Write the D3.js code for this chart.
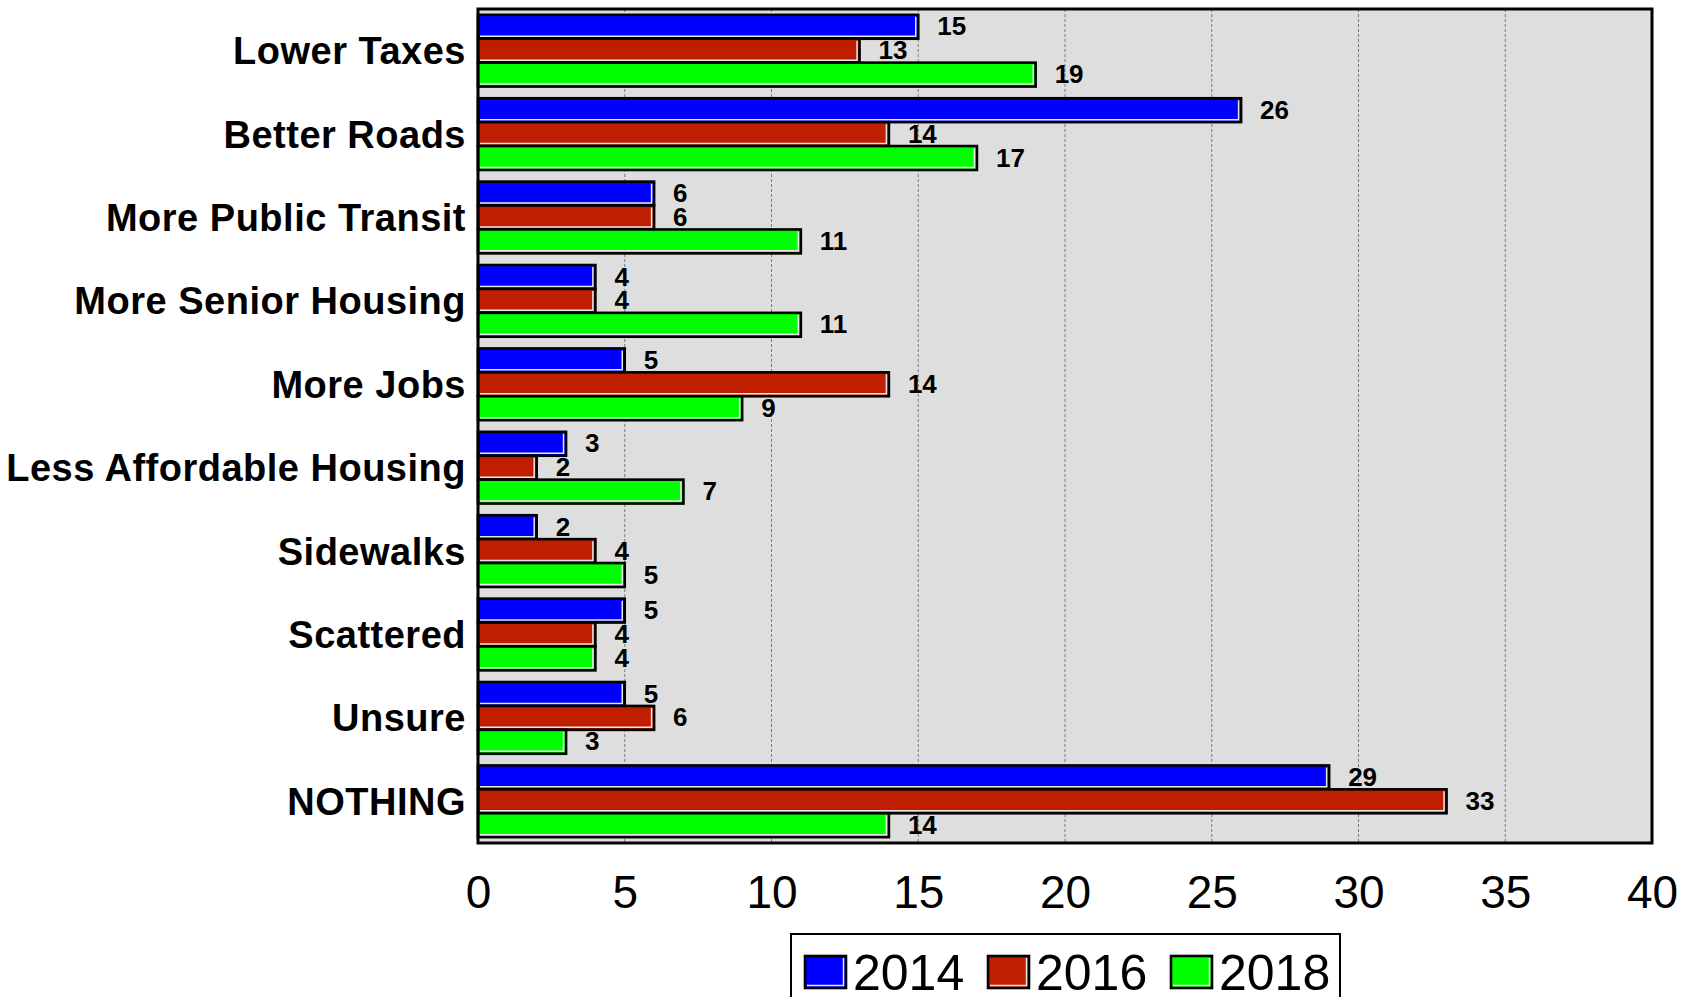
<!DOCTYPE html>
<html>
<head>
<meta charset="utf-8">
<script src="https://cdn.jsdelivr.net/npm/d3@7"></script>
<style>
  body { margin: 0; background: #fff; }
  svg { font-family: Arial, "Liberation Sans", sans-serif; }
</style>
</head>
<body>
<div id="chart"></div>
<script>
// data
const categories = ['Lower Taxes', 'Better Roads', 'More Public Transit', 'More Senior Housing',
    'More Jobs', 'Less Affordable Housing', 'Sidewalks', 'Scattered', 'Unsure', 'NOTHING'];
const years = ['2014', '2016', '2018'];
const values2014 = [15, 26, 6, 4, 5, 3, 2, 5, 5, 29];
const values2016 = [13, 14, 6, 4, 14, 2, 4, 4, 6, 33];
const values2018 = [19, 17, 11, 11, 9, 7, 5, 4, 3, 14];
const xTicks = [0, 5, 10, 15, 20, 25, 30, 35, 40];
const colors = ['#0000ff', '#c01e00', '#00ff00'];

class GroupedBars {

    constructor(_config) {
        this.config = {
            parentElement: _config.parentElement,
            containerWidth: _config.containerWidth || 1692,
            containerHeight: _config.containerHeight || 997,
            margin: _config.margin || {top: 9, right: 40, bottom: 154, left: 478}
        };
        this.series = [values2014, values2016, values2018];
        this.initVis();
    }

    initVis() {
        let vis = this;

        vis.width = vis.config.containerWidth - vis.config.margin.left - vis.config.margin.right;
        vis.height = vis.config.containerHeight - vis.config.margin.top - vis.config.margin.bottom;

        vis.svg = d3.select(vis.config.parentElement)
            .append('svg')
            .attr('width', vis.config.containerWidth)
            .attr('height', vis.config.containerHeight);

        vis.chart = vis.svg.append('g')
            .attr('transform', `translate(${vis.config.margin.left},${vis.config.margin.top})`);

        vis.x = d3.scaleLinear().domain([0, 40]).range([0, vis.width]);

        vis.y = d3.scaleBand()
            .domain(categories)
            .range([0, vis.height])
            .paddingInner(0.14)
            .paddingOuter(0.07);

        vis.ySub = d3.scaleBand()
            .domain(years)
            .range([0, vis.y.bandwidth()]);

        // plot background
        vis.chart.append('rect')
            .attr('width', vis.width)
            .attr('height', vis.height)
            .attr('fill', '#dedede');

        // dashed grid
        vis.chart.selectAll('.grid')
            .data(xTicks.slice(1, -1))
            .join('line')
            .attr('class', 'grid')
            .attr('x1', d => vis.x(d)).attr('x2', d => vis.x(d))
            .attr('y1', 0).attr('y2', vis.height)
            .attr('stroke', '#7a7a7a')
            .attr('stroke-width', 1)
            .attr('stroke-dasharray', '3,2');

        // x axis labels
        vis.xAxisG = vis.chart.append('g')
            .attr('transform', `translate(0,${vis.height})`)
            .call(d3.axisBottom(vis.x).tickValues(xTicks).tickSize(0).tickFormat(d3.format('d')));
        vis.xAxisG.select('.domain').remove();
        vis.xAxisG.selectAll('text')
            .attr('y', 65)
            .attr('dy', null)
            .attr('fill', '#000')
            .style('font-size', '46px')
            .style('font-family', 'Arial, "Liberation Sans", sans-serif');

        // category labels
        vis.chart.selectAll('.cat-label')
            .data(categories)
            .join('text')
            .attr('class', 'cat-label')
            .attr('x', -12)
            .attr('y', d => vis.y(d) + vis.y.bandwidth() / 2 + 13.5)
            .attr('text-anchor', 'end')
            .style('font-size', '38px')
            .style('font-weight', 'bold')
            .style('letter-spacing', '0.5px')
            .text(d => d);

        vis.renderVis();
        vis.renderLegend();
    }

    bar(sel, x, y, w, h, color) {
        sel.append('rect')
            .attr('x', x).attr('y', y)
            .attr('width', w).attr('height', h)
            .attr('fill', color)
            .attr('stroke', '#000')
            .attr('stroke-width', 2.6);
        // light bevel on right/bottom edges
        sel.append('path')
            .attr('d', `M${x + 2},${y + h - 2.5}H${x + w - 2.5}V${y + 2}`)
            .attr('fill', 'none')
            .attr('stroke', '#e8e8e8')
            .attr('stroke-width', 1.5);
    }

    renderVis() {
        let vis = this;

        const groups = vis.chart.selectAll('.group')
            .data(categories)
            .join('g')
            .attr('class', 'group')
            .attr('transform', d => `translate(0,${vis.y(d)})`);

        groups.each(function(cat, i) {
            const g = d3.select(this);
            vis.series.forEach((vals, s) => {
                const v = vals[i];
                const yy = vis.ySub(years[s]);
                const h = vis.ySub.bandwidth();
                vis.bar(g, 0, yy, vis.x(v), h, colors[s]);
                g.append('text')
                    .attr('x', vis.x(v) + 19)
                    .attr('y', yy + h / 2 + 8.5)
                    .style('font-size', '26px')
                    .style('font-weight', 'bold')
                    .text(v);
            });
        });

        // plot frame
        vis.chart.append('rect')
            .attr('width', vis.width)
            .attr('height', vis.height)
            .attr('fill', 'none')
            .attr('stroke', '#000')
            .attr('stroke-width', 3);
    }

    renderLegend() {
        let vis = this;
        const lg = vis.svg.append('g').attr('class', 'legend');

        lg.append('rect')
            .attr('x', 791).attr('y', 934)
            .attr('width', 549).attr('height', 80)
            .attr('fill', '#fff')
            .attr('stroke', '#000')
            .attr('stroke-width', 2);

        const itemX = d3.scalePoint().domain(years).range([805, 1171]);

        years.forEach((yr, s) => {
            const gx = itemX(yr);
            vis.bar(lg, gx, 956, 41, 32, colors[s]);
            lg.append('text')
                .attr('x', gx + 48)
                .attr('y', 990)
                .style('font-size', '50px')
                .text(yr);
        });
    }
}

new GroupedBars({parentElement: '#chart'});
</script>
</body>
</html>
